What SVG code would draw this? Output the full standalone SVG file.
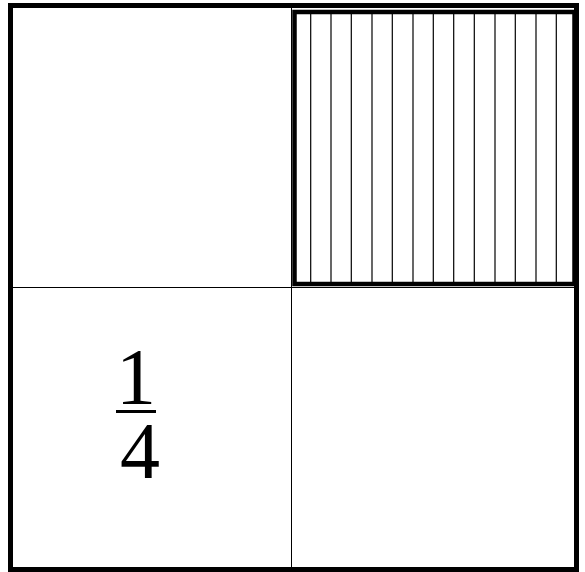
<svg xmlns="http://www.w3.org/2000/svg" width="585" height="572" viewBox="0 0 585 572">
<style>
.thin{stroke:#000;stroke-width:1;fill:none}
.hatch{stroke:#000;stroke-width:1.2}
.num{font-family:"Liberation Serif","Times New Roman",serif;font-size:80px;fill:#000}
</style>
<rect width="585" height="572" fill="#fff"/>
<g id="grid">
<line class="thin" x1="291.5" y1="5" x2="291.5" y2="570"/>
<line class="thin" x1="10" y1="287.5" x2="577" y2="287.5"/>
</g>
<g id="shaded">
<g class="hatch">
<line x1="310.7" y1="14" x2="310.7" y2="282"/>
<line x1="331" y1="14" x2="331" y2="282"/>
<line x1="351.3" y1="14" x2="351.3" y2="282"/>
<line x1="372" y1="14" x2="372" y2="282"/>
<line x1="392.3" y1="14" x2="392.3" y2="282"/>
<line x1="413" y1="14" x2="413" y2="282"/>
<line x1="433.3" y1="14" x2="433.3" y2="282"/>
<line x1="453.7" y1="14" x2="453.7" y2="282"/>
<line x1="474.3" y1="14" x2="474.3" y2="282"/>
<line x1="495" y1="14" x2="495" y2="282"/>
<line x1="515.3" y1="14" x2="515.3" y2="282"/>
<line x1="536" y1="14" x2="536" y2="282"/>
<line x1="556.3" y1="14" x2="556.3" y2="282"/>
</g>
<rect x="294.5" y="12" width="280" height="272" fill="none" stroke="#000" stroke-width="4.5"/>
</g>
<g id="outer">
<rect x="10.5" y="5.5" width="566" height="564" fill="none" stroke="#000" stroke-width="5"/>
</g>
<g id="fraction">
<text class="num" x="136" y="403.5" text-anchor="middle">1</text>
<line x1="116" y1="411.5" x2="156" y2="411.5" stroke="#000" stroke-width="3"/>
<text class="num" x="140" y="477.5" text-anchor="middle">4</text>
</g>
</svg>
